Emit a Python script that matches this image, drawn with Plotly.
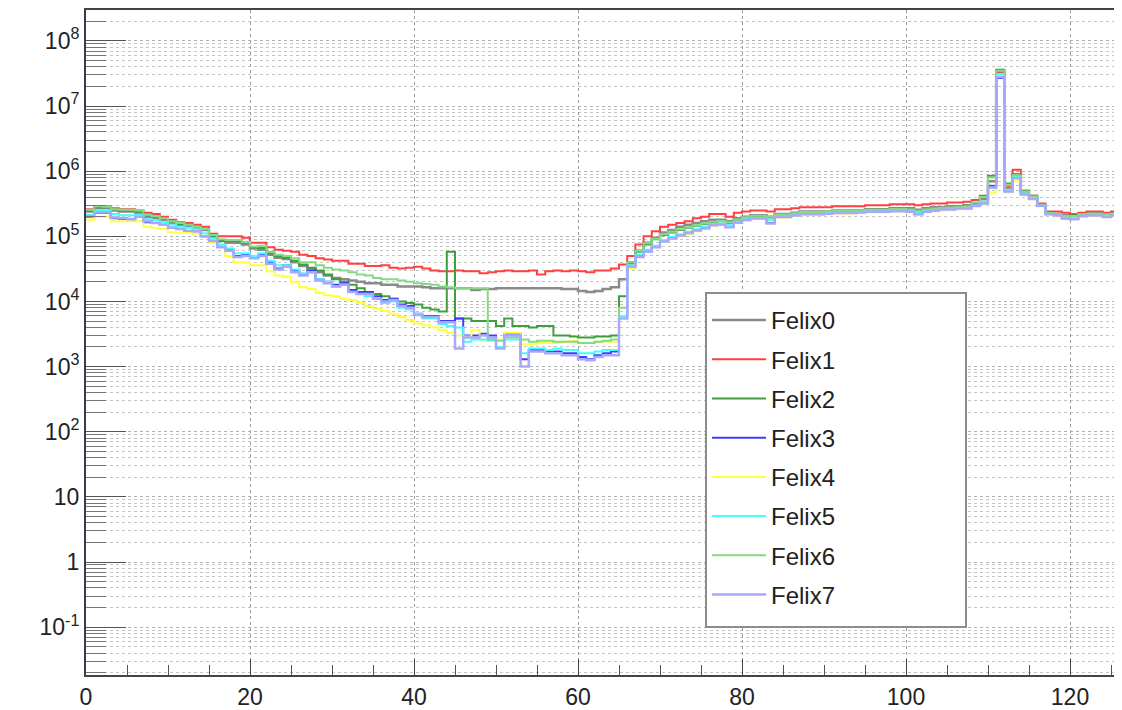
import plotly.graph_objects as go

# Bin left edges (bin width 1), 128 bins
bin_edges = list(range(0, 129))

series_names = ["Felix0", "Felix1", "Felix2", "Felix3", "Felix4", "Felix5", "Felix6", "Felix7"]

# Counts per bin, in thousands
felix0_k = [240, 270, 270, 250, 240, 240, 230, 200, 190, 180,
            160, 150, 145, 135, 125, 100, 85, 80, 80, 75,
            65, 62, 52, 47, 45, 40, 35, 32, 28, 25,
            23, 22, 21, 20, 19, 19, 18, 18, 17, 17,
            17, 16.5, 16, 16, 16, 16, 16, 15, 15.5, 15.5,
            16, 16, 16, 16, 16, 16, 16, 16, 15.5, 15.5,
            14.5, 14, 14.5, 15.5, 16.5, 22, 40, 60, 80, 95,
            115, 125, 140, 150, 160, 170, 180, 180, 170, 190,
            200, 210, 210, 200, 220, 220, 230, 240, 240, 240,
            240, 250, 250, 250, 250, 260, 260, 260, 270, 270,
            270, 255, 270, 280, 280, 290, 290, 300, 320, 370,
            700, 33000, 550, 900, 480, 400, 300, 230, 220, 210,
            200, 215, 220, 220, 215, 220, 220, 215]

felix1_k = [260, 290, 290, 270, 260, 260, 250, 230, 220, 200,
            180, 165, 160, 150, 140, 110, 100, 100, 100, 95,
            80, 80, 68, 62, 60, 58, 52, 50, 46, 44,
            42, 42, 38, 38, 35, 35, 36, 33, 32, 33,
            34, 32, 30, 29, 29, 30, 29, 29, 27, 28,
            29, 30, 29, 29, 30, 26, 29, 30, 29, 30,
            29, 28, 30, 30, 32, 37, 50, 75, 100, 120,
            140, 150, 160, 170, 190, 200, 220, 220, 200, 230,
            240, 250, 250, 240, 260, 260, 270, 280, 280, 280,
            280, 290, 290, 290, 290, 300, 300, 300, 310, 310,
            310, 300, 310, 320, 320, 330, 330, 340, 360, 400,
            600, 32000, 600, 1050, 500, 420, 320, 240, 240, 230,
            220, 230, 240, 240, 230, 240, 240, 230]

felix2_k = [250, 280, 280, 260, 250, 250, 240, 215, 205, 190,
            170, 155, 150, 140, 130, 100, 85, 85, 85, 80,
            68, 66, 55, 50, 47, 42, 37, 33, 30, 26,
            22, 20, 18, 16, 14, 13, 12, 11, 10, 9.5,
            9, 8, 7.5, 7, 58, 5.5, 5.5, 5, 5, 5,
            4.2, 5.5, 4.2, 4.2, 4, 4.2, 4.2, 3, 3, 2.9,
            2.8, 2.8, 2.9, 2.9, 3.0, 12, 38, 58, 75, 90,
            105, 115, 125, 135, 145, 155, 165, 170, 160, 180,
            195, 205, 205, 195, 215, 215, 225, 235, 235, 235,
            240, 245, 245, 245, 250, 255, 255, 255, 260, 260,
            255, 240, 255, 265, 270, 275, 280, 285, 320, 420,
            850, 36000, 650, 850, 500, 420, 310, 230, 220, 205,
            210, 220, 225, 225, 220, 225, 225, 220]

felix3_k = [200, 230, 230, 190, 185, 180, 200, 165, 160, 150,
            135, 130, 120, 120, 100, 85, 70, 62, 50, 52,
            48, 52, 40, 32, 36, 30, 26, 30, 22, 20,
            18, 19, 15, 14, 14, 12, 10.5, 11, 9, 8.5,
            6.5, 6, 6, 5, 5, 5.5, 3, 3, 3.2, 3,
            2, 3.2, 3.2, 1.3, 1.8, 1.8, 1.7, 1.7, 1.6, 1.6,
            1.4, 1.3, 1.5, 1.6, 1.7, 6, 35, 50, 60, 70,
            85, 95, 105, 115, 125, 135, 150, 155, 140, 165,
            180, 190, 190, 160, 200, 200, 210, 220, 220, 220,
            225, 230, 230, 230, 235, 240, 240, 240, 245, 245,
            240, 220, 240, 250, 260, 260, 270, 270, 300, 330,
            580, 27000, 500, 800, 450, 380, 300, 220, 210, 190,
            185, 205, 210, 210, 200, 210, 200, 195]

felix4_k = [180, 200, 200, 170, 170, 170, 170, 140, 135, 130,
            115, 115, 115, 110, 100, 80, 70, 50, 40, 40,
            36, 36, 29, 25, 24, 20, 16.5, 15.5, 13.5, 12.5,
            12, 11, 10.5, 9.5, 8.5, 7.8, 7.2, 6.5, 5.8, 5.2,
            4.6, 4.3, 4, 3.6, 3.3, 3, 2.9, 3.6, 2.6, 2.6,
            2.6, 3.3, 3.3, 2.2, 2.2, 2.3, 2.3, 2.3, 2.4, 2.5,
            2.3, 2.3, 2.4, 2.4, 2.4, 6, 32, 48, 58, 68,
            82, 92, 100, 110, 120, 130, 145, 150, 145, 160,
            175, 185, 185, 175, 195, 195, 205, 215, 215, 215,
            220, 225, 225, 225, 230, 235, 235, 235, 240, 240,
            235, 215, 235, 245, 250, 255, 260, 265, 285, 310,
            470, 30000, 470, 700, 430, 370, 290, 215, 205, 195,
            190, 200, 205, 205, 200, 205, 200, 195]

felix5_k = [215, 250, 250, 220, 210, 210, 215, 185, 175, 165,
            150, 140, 135, 128, 112, 92, 75, 65, 55, 55,
            50, 55, 42, 36, 36, 31, 27, 28, 22, 20,
            17, 18, 14, 13, 12, 11, 9.5, 10, 8, 7.5,
            6.5, 5.5, 5.5, 4.5, 4.2, 4, 2.4, 2.6, 2.6, 2.5,
            2, 2.6, 2.6, 1.6, 1.9, 1.9, 1.8, 1.9, 1.8, 1.8,
            1.6, 1.6, 1.7, 1.8, 1.8, 6, 36, 52, 62, 72,
            88, 98, 108, 118, 128, 140, 152, 158, 150, 168,
            183, 193, 193, 180, 203, 203, 213, 223, 223, 223,
            228, 233, 233, 233, 238, 243, 243, 243, 248, 248,
            243, 230, 243, 253, 262, 265, 272, 275, 300, 340,
            550, 31000, 520, 820, 460, 390, 300, 225, 215, 200,
            195, 210, 215, 215, 210, 215, 210, 205]

felix6_k = [255, 290, 285, 260, 255, 255, 250, 215, 205, 190,
            170, 160, 150, 140, 130, 105, 90, 88, 88, 82,
            70, 72, 58, 52, 50, 46, 40, 40, 36, 33,
            31, 30, 28, 26, 25, 23, 22, 22, 21, 20,
            19, 18.5, 18, 17, 16.5, 16, 16, 16, 16, 2.6,
            2.5, 2.8, 2.8, 2.6, 2.4, 2.5, 2.5, 2.4, 2.4, 2.4,
            2.3, 2.3, 2.4, 2.5, 2.6, 8, 40, 60, 78, 92,
            108, 118, 128, 138, 148, 158, 168, 172, 165, 182,
            197, 207, 207, 200, 217, 217, 227, 237, 237, 237,
            242, 247, 247, 247, 252, 257, 257, 257, 262, 262,
            258, 245, 258, 268, 272, 278, 282, 288, 330, 400,
            800, 35000, 620, 870, 490, 410, 305, 228, 218, 205,
            205, 218, 222, 222, 218, 222, 222, 218]

felix7_k = [205, 235, 235, 195, 190, 185, 200, 170, 160, 150,
            135, 130, 122, 120, 100, 85, 68, 60, 48, 50,
            46, 50, 38, 31, 34, 28, 25, 28, 21, 19,
            17, 18, 14, 13, 13, 11, 10, 10.5, 8.5, 8,
            6.2, 5.8, 5.8, 4.8, 4.8, 1.9, 2.8, 2.8, 3, 2.8,
            1.9, 3, 3, 1.0, 1.7, 1.7, 1.6, 1.6, 1.5, 1.5,
            1.3, 1.25, 1.4, 1.5, 1.5, 5.5, 34, 48, 58, 68,
            83, 93, 103, 113, 123, 133, 148, 152, 138, 162,
            178, 188, 188, 158, 198, 198, 208, 218, 218, 218,
            223, 228, 228, 228, 233, 238, 238, 238, 243, 243,
            238, 218, 238, 248, 258, 258, 268, 268, 295, 320,
            560, 28000, 490, 780, 440, 375, 295, 218, 208, 188,
            183, 203, 208, 208, 198, 208, 198, 193]

series_k = [felix0_k, felix1_k, felix2_k, felix3_k, felix4_k, felix5_k, felix6_k, felix7_k]
colors = ["#8a8a8a", "#ff4040", "#3f9f3f", "#3c3cff", "#ffff40", "#40ffff", "#86d986", "#a8a8ff"]
widths = [2.5, 2, 2, 2, 2, 2, 2, 2.5]

y_tickvals = [0.1, 1, 10, 100, 1e3, 1e4, 1e5, 1e6, 1e7, 1e8]
y_ticktext = ["10<sup>-1</sup>", "1", "10", "10<sup>2</sup>", "10<sup>3</sup>", "10<sup>4</sup>",
              "10<sup>5</sup>", "10<sup>6</sup>", "10<sup>7</sup>", "10<sup>8</sup>"]
x_tickvals = [0, 20, 40, 60, 80, 100, 120]

fig = go.Figure()
for name, vals, col, w in zip(series_names, series_k, colors, widths):
    y = [v * 1000 for v in vals]
    y = y + [y[-1]]
    fig.add_trace(go.Scatter(
        x=bin_edges, y=y, mode="lines", name=name, legendgroup=name,
        line=dict(color=col, width=w, shape="hv"),
    ))

# The page body adds an 8px offset; figure coords = screen coords - 8
OFF = 8
W, H = 1122 - OFF, 710 - OFF
ml, mr, mt, mb = 86 - OFF, 0, 10 - OFF, 35

def px_x(p):
    return (p - OFF - ml) / (W - ml - mr)

def px_y(p):
    return (H - mb - (p - OFF)) / (H - mt - mb)

fig.add_shape(type="rect", xref="paper", yref="paper",
              x0=px_x(706), x1=px_x(966), y0=px_y(627), y1=px_y(293),
              line=dict(color="#8c8c8c", width=2), fillcolor="white", layer="above")

fig.update_layout(
    width=W, height=H,
    margin=dict(l=ml, r=mr, t=mt, b=mb, autoexpand=False),
    paper_bgcolor="white", plot_bgcolor="white",
    font=dict(family="Liberation Sans, Arial, sans-serif", color="#222222", size=23),
    legend=dict(
        x=px_x(707), y=px_y(298), xanchor="left", yanchor="top",
        bgcolor="rgba(0,0,0,0)", borderwidth=0,
        font=dict(size=24, color="#222222"),
        itemwidth=54, tracegroupgap=5, traceorder="grouped",
    ),
    showlegend=True,
)

fig.update_xaxes(
    range=[0, (W - ml - mr) / 8.2], tickvals=x_tickvals,
    ticks="inside", ticklen=16, tickcolor="#444444", tickwidth=1,
    showgrid=True, gridcolor="#9a9a9a", gridwidth=1, griddash="dot",
    showline=True, linecolor="#444444", linewidth=2, mirror=True,
    zeroline=False,
    minor=dict(dtick=5, ticks="inside", ticklen=10, tickcolor="#555555", showgrid=False),
    tickfont=dict(size=23, color="#222222"),
)
fig.update_yaxes(
    type="log", range=[-1.735, 8.475],
    tickvals=y_tickvals, ticktext=y_ticktext,
    ticks="inside", ticklen=40, tickcolor="#555555", tickwidth=1,
    showgrid=True, gridcolor="#b0b0b0", gridwidth=1, griddash="dot",
    showline=True, linecolor="#3a3a55", linewidth=2,
    zeroline=False,
    minor=dict(dtick="D1", ticks="inside", ticklen=20, tickcolor="#777777",
               showgrid=True, gridcolor="#c4c4c4", griddash="dot", gridwidth=1),
    tickfont=dict(size=23, color="#222222"),
)

fig.write_html("out.html")
